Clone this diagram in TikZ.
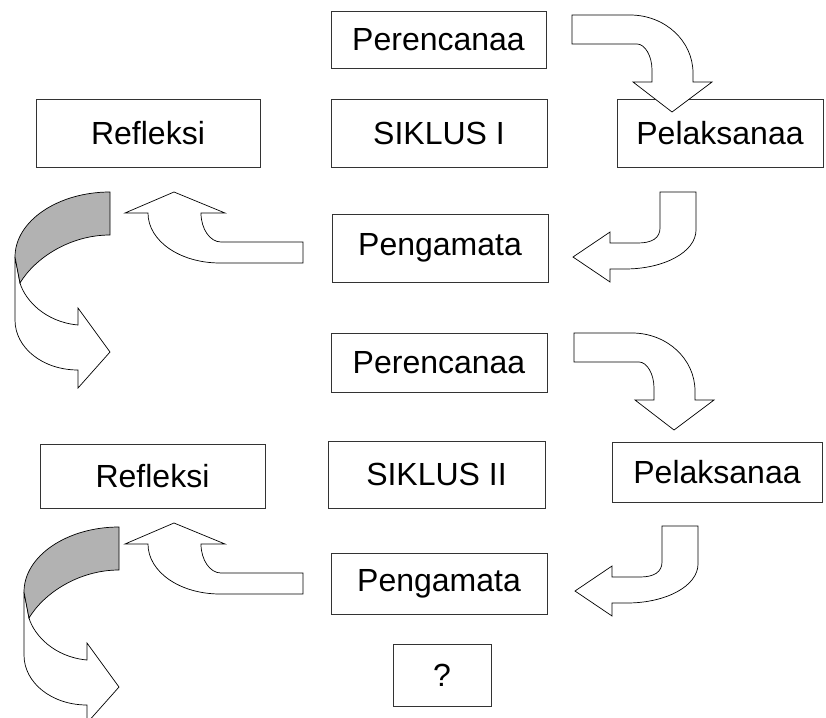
\documentclass[tikz,border=0pt]{standalone}
\usepackage{fontspec}
\setmainfont{Liberation Sans}

\begin{document}
\begin{tikzpicture}[x=1pt, y=-1pt,
    box/.style={draw=black!80, line width=0.8pt, inner sep=0pt, font=\fontsize{32}{38}\selectfont},
    blockarrow/.style={draw=black, line width=0.7pt, fill=white, line join=miter},
    band/.style={draw=black, line width=0.7pt, fill=black!30},
    % bent arrow: right, then down
    turndown/.pic={
        \draw[blockarrow] (572,15) -- (630,15) .. controls (665,15) and (693,41) .. (693,73)
            -- (693,82) -- (712,82) -- (672,112) -- (633,82) -- (652,82) -- (652,70)
            .. controls (652,56) and (645,44) .. (637,44) -- (572,44) -- cycle;
    },
    % bent arrow: down, then left
    turnleft/.pic={
        \draw[blockarrow] (660,192) -- (696,192) -- (696,230) .. controls (696,252) and (664,269) .. (625,269)
            -- (610,269) -- (610,282) -- (573,257) -- (610,232) -- (610,243) -- (638,243)
            .. controls (652,243) and (660,238) .. (660,228) -- cycle;
    },
    % bent arrow: left, then up
    turnup/.pic={
        \draw[blockarrow] (303,242) -- (303,263) -- (220,263) .. controls (180,263) and (148,241) .. (148,213)
            -- (125,213) -- (174,192) -- (225,213) -- (201,213)
            .. controls (201,229) and (210,242) .. (221,242) -- cycle;
    },
    % u-turn arrow with shaded back
    uturn/.pic={
        \draw[blockarrow] (15,257) -- (15,320) .. controls (15,348) and (43,370) .. (78,370)
            -- (78,388) -- (110,352) -- (78,308) -- (78,325)
            .. controls (45,322) and (25,300) .. (20,283) -- cycle;
        \draw[band] (110,192) .. controls (58,192) and (15,221) .. (15,257) -- (20,283)
            .. controls (35,258) and (70,235) .. (110,235) -- cycle;
    }]
    \useasboundingbox (0,0) rectangle (826,717);

    % Siklus I
    \node[box, minimum width=215, minimum height=57] (plan1) at (438.5,39.5) {Perencanaa};
    \node[box, minimum width=224, minimum height=68] (refl1) at (148,133) {Refleksi};
    \node[box, minimum width=216, minimum height=68] (cyc1) at (439,133) {SIKLUS I};
    \node[box, minimum width=206, minimum height=68] (act1) at (720,133) {Pelaksanaa};
    \node[box, minimum width=216, minimum height=68] (obs1) at (440,248) {Pengamata};

    \pic at (0,0) {turndown};
    \pic at (0,0) {turnleft};
    \pic at (0,0) {turnup};
    \pic at (0,0) {uturn};

    % Siklus II
    \node[box, minimum width=216, minimum height=59] (plan2) at (439,362.5) {Perencanaa};
    \node[box, minimum width=225, minimum height=64] (refl2) at (152.5,476) {Refleksi};
    \node[box, minimum width=217, minimum height=67] (cyc2) at (436.5,474.5) {SIKLUS II};
    \node[box, minimum width=210, minimum height=60] (act2) at (717,472) {Pelaksanaa};
    \node[box, minimum width=216, minimum height=61] (obs2) at (439,583.5) {Pengamata};
    \node[box, minimum width=98, minimum height=62] (next) at (442,675) {?};

    \pic at (2,318) {turndown};
    \pic at (2,334) {turnleft};
    \pic at (0,331) {turnup};
    \pic at (9,335) {uturn};
\end{tikzpicture}
\end{document}
